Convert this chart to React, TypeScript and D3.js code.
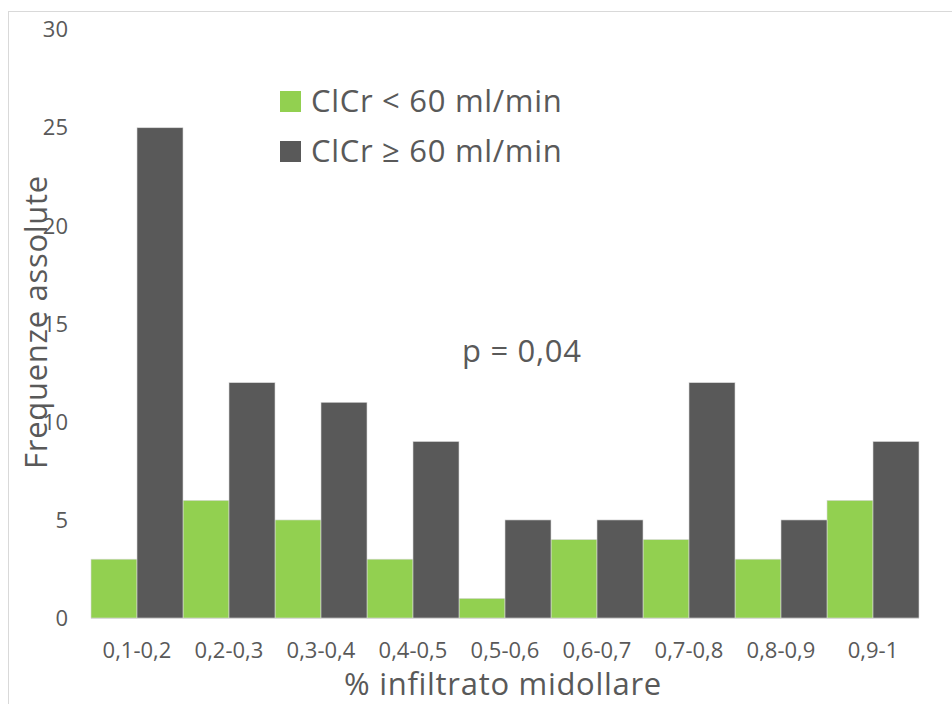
import React from "react";
import * as d3 from "d3";

const categories = ["0,1-0,2", "0,2-0,3", "0,3-0,4", "0,4-0,5", "0,5-0,6", "0,6-0,7", "0,7-0,8", "0,8-0,9", "0,9-1"];
const seriesNames = ["ClCr < 60 ml/min", "ClCr ≥ 60 ml/min"];
const lowClcr = [3, 6, 5, 3, 1, 4, 4, 3, 6];
const highClcr = [25, 12, 11, 9, 5, 5, 12, 5, 9];
const yTicks = [0, 5, 10, 15, 20, 25, 30];
const colors = ["#92d050", "#595959"];

const W = 952;
const H = 704;
const FONT = "'Open Sans', 'Segoe UI', sans-serif";
const TEXT = "#595959";

export default function App() {
  const left = 91, right = 919, top = 29.7, bottom = 618;
  const x = d3.scaleBand<string>().domain(categories).range([left, right]).padding(0);
  const sub = d3.scaleBand<number>().domain([0, 1]).range([0, x.bandwidth()]).padding(0);
  const y = d3.scaleLinear().domain([0, 30]).range([bottom, top]);
  const series = [lowClcr, highClcr];
  const big = { fontSize: 31, letterSpacing: 0.7, fill: TEXT } as const;

  return (
    <svg width={W} height={H} style={{ position: "absolute", left: 0, top: 0, background: "#fff" }} fontFamily={FONT}>
      <rect x={8.5} y={11.5} width={1000} height={1000} fill="none" stroke="#d9d9d9" strokeWidth={1} />
      {series.map((vals, si) =>
        vals.map((v, i) => (
          <rect
            key={`${si}-${i}`}
            x={(x(categories[i]) as number) + (sub(si) as number)}
            y={y(v)}
            width={sub.bandwidth()}
            height={y(0) - y(v)}
            fill={colors[si]}
            stroke="#d9d9d9"
            strokeWidth={0.6}
          />
        ))
      )}
      <line x1={left} x2={right} y1={bottom + 0.5} y2={bottom + 0.5} stroke="#d9d9d9" strokeWidth={1} />
      {yTicks.map((t) => (
        <text key={t} x={68} y={y(t)} dy="0.35em" textAnchor="end" fontSize={22} fill={TEXT}>
          {t}
        </text>
      ))}
      {categories.map((c) => (
        <text key={c} x={(x(c) as number) + x.bandwidth() / 2} y={658} textAnchor="middle" fontSize={22} fill={TEXT}>
          {c}
        </text>
      ))}
      <text x={503} y={695} textAnchor="middle" {...big}>
        % infiltrato midollare
      </text>
      <text transform={`translate(47,322) rotate(-90)`} textAnchor="middle" {...big}>
        Frequenze assolute
      </text>
      {seriesNames.map((n, i) => (
        <g key={n}>
          <rect x={280} y={91 + i * 50} width={21} height={21} fill={colors[i]} />
          <text x={311} y={112 + i * 50} {...big}>
            {n}
          </text>
        </g>
      ))}
      <text x={462} y={362} {...big}>
        p = 0,04
      </text>
    </svg>
  );
}
